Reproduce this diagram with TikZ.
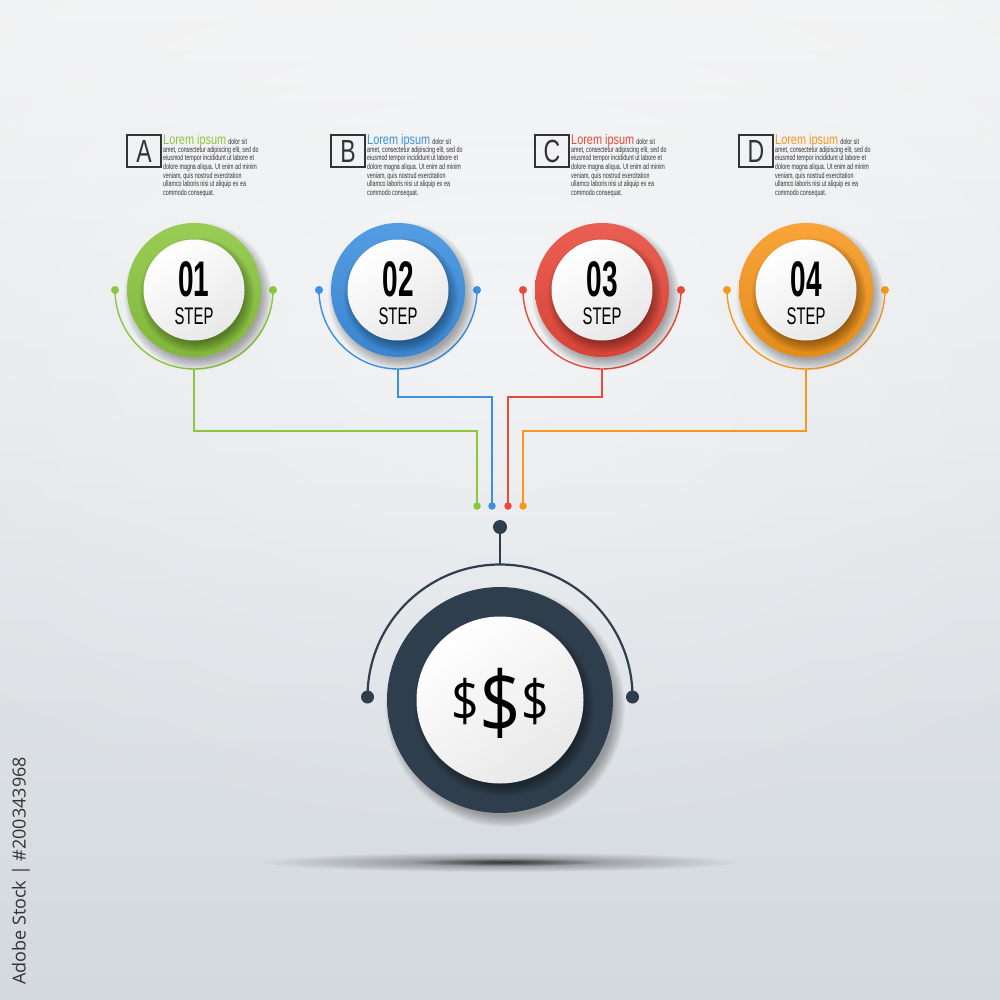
\documentclass[tikz,border=0pt]{standalone}
\usepackage{fontspec}
\setmainfont{Liberation Sans}
\newfontfamily\numf[FakeStretch=0.56]{Liberation Sans}
\newfontfamily\stepf[FakeStretch=0.62]{Liberation Sans}
\newfontfamily\boxf[FakeStretch=0.72]{Liberation Sans}
\newfontfamily\lorf[FakeStretch=0.78]{Liberation Sans}
\newfontfamily\bodyf[FakeStretch=0.67]{Liberation Sans}
\newfontfamily\dolf[FakeStretch=0.85]{Open Sans}
\newfontfamily\credf{Open Sans}
\usetikzlibrary{fadings}
\definecolor{cgreen}{HTML}{8CC63F}
\definecolor{cblue}{HTML}{3D90E0}
\definecolor{cred}{HTML}{E84A3C}
\definecolor{corange}{HTML}{F7981D}
\definecolor{cdark}{HTML}{2F3E4C}
\definecolor{ctext}{HTML}{333333}
\definecolor{bgtop}{HTML}{F1F2F3}
\definecolor{bgbot}{HTML}{D3D9DF}
\tikzfading[name=glowfade, inner color=transparent!0, outer color=transparent!100]
\tikzfading[name=shfade, inner color=transparent!0, outer color=transparent!100]
\newcommand{\mysoftsh}[4]{%
  \foreach \k in {0,...,9}{\fill[black, opacity=#4] (#1,#2) circle ({#3-4+\k*1.2});}}
\begin{document}
\begin{tikzpicture}[x=1pt,y=-1pt,
  ring/.style={circle, inner sep=0pt, minimum size=134pt, top color=#1!88!white, bottom color=#1!92!black},
  disc/.style={circle, inner sep=0pt, minimum size=101pt, top color=white, bottom color=black!9, shading angle=35},
  dotc/.style={circle, inner sep=0pt, minimum size=8pt, fill=#1},
  conn/.style={draw=#1, line width=1.4pt},
  dline/.style={draw=cdark, line width=2.2pt},
  lbox/.style={draw=ctext, line width=1.2pt, minimum width=34pt, minimum height=32pt, inner sep=0pt,
    font=\boxf\fontsize{32}{32}\selectfont, text=ctext},
]
\useasboundingbox (0,0) rectangle (1000,1000);
% background
\shade[top color=bgtop, bottom color=bgbot] (0,0) rectangle (1000,1000);
\fill[white, opacity=0.45, path fading=glowfade] (500,330) ellipse (800 and 520);

\foreach \i/\cx/\col/\L/\num/\hy/\ex in {1/194/cgreen/A/01/431/477, 2/398/cblue/B/02/397/492, 3/602/cred/C/03/397/508, 4/806/corange/D/04/431/523} {
  % text block
  \node[lbox] (box\i) at (\cx-50,151) {\L};
  \node[anchor=base west, inner sep=0pt] (tt\i) at (\cx-31,145)
    {\lorf\fontsize{14}{14}\selectfont\textcolor{\col}{Lorem ipsum}\kern2pt{\bodyf\fontsize{8}{8.6}\selectfont\color{ctext}dolor sit}};
  \node[anchor=north west, inner sep=0pt, align=left, text=ctext, font=\bodyf\fontsize{8}{8.6}\selectfont] (tb\i) at (\cx-31,146.4)
    {amet, consectetur adipiscing elit, sed do\\eiusmod tempor incididunt ut labore et\\dolore magna aliqua. Ut enim ad minim\\veniam, quis nostrud exercitation\\ullamco laboris nisi ut aliquip ex ea\\commodo consequat.};
  % arc and dots
  \node[dotc=\col] (dl\i) at (\cx-79,290) {};
  \node[dotc=\col] (dr\i) at (\cx+79,290) {};
  \draw[conn=\col] (dl\i.center) arc[start angle=180, end angle=0, radius=79];
  \coordinate (ab\i) at (\cx,369);
  \node[dotc=\col, minimum size=7.5pt] (de\i) at (\ex,506) {};
  \draw[conn=\col] (ab\i) -- (\cx,\hy) -| (de\i.center);
  % circle
  \mysoftsh{\cx+4}{296}{67}{0.035}
  \node[ring=\col] (ring\i) at (\cx,290) {};
  \mysoftsh{\cx+3}{295}{50.5}{0.04}
  \node[disc] (disc\i) at (\cx,290) {};
  \node[font=\numf\bfseries\fontsize{50}{50}\selectfont, inner sep=0pt] (num\i) at (\cx,279) {\num};
  \node[font=\stepf\fontsize{24}{24}\selectfont, inner sep=0pt] (step\i) at (\cx,316) {STEP};
}

% central connectors
\node[dotc=cdark, minimum size=14pt] (ctop) at (500,527) {};
\coordinate (atop) at (500,565);
\draw[dline] (ctop) -- (atop);
\node[dotc=cdark, minimum size=13pt] (cl) at (367.5,697) {};
\node[dotc=cdark, minimum size=13pt] (cr) at (632.5,697) {};
\draw[dline] (cl.center) arc[start angle=180, end angle=360, radius=132.5];

% floor shadow
\fill[black, opacity=0.45, path fading=shfade] (500,862) ellipse (240 and 10);
\fill[black, opacity=0.55, path fading=shfade] (505,862) ellipse (95 and 4);

% central circle
\mysoftsh{505}{707}{113}{0.035}
\node[circle, inner sep=0pt, minimum size=226pt, fill=cdark] (big) at (500,700) {};
\mysoftsh{504}{706}{83.5}{0.04}
\node[disc, minimum size=167pt] (bigw) at (500,700) {};
\node[font=\dolf\fontsize{57}{57}\selectfont, inner sep=0pt] (ds1) at (465,702) {\$};
\node[font=\dolf\fontsize{86}{86}\selectfont, inner sep=0pt] (ds2) at (500,703) {\$};
\node[font=\dolf\fontsize{57}{57}\selectfont, inner sep=0pt] (ds3) at (535,702) {\$};

% vertical label
\node[rotate=90, font=\credf\fontsize{18}{18}\selectfont, text=ctext] (credit) at (21,871) {Adobe Stock | \#200343968};
\end{tikzpicture}
\end{document}
